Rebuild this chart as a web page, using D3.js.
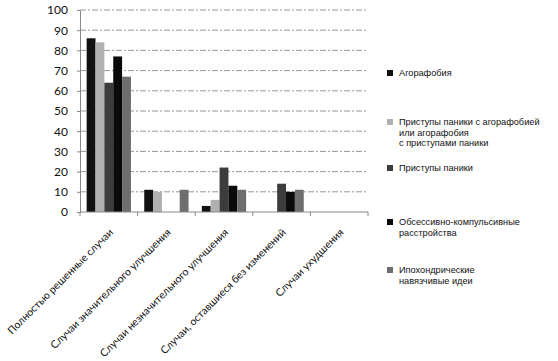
<!DOCTYPE html>
<html><head><meta charset="utf-8">
<script src="https://cdn.jsdelivr.net/npm/d3@7"></script>
<style>body{margin:0;background:#fff}</style>
</head><body>
<script>
const categories = ["Полностью решенные случаи","Случаи значительного улучшения","Случаи незначительного улучшения","Случаи, оставшиеся без изменений","Случаи ухудшения"];
const seriesNames = [["Агорафобия"],["Приступы паники с агорафобией","или агорафобия","с приступами паники"],["Приступы паники"],["Обсессивно-компульсивные","расстройства"],["Ипохондрические","навязчивые идеи"]];
const agoraphobia = [86,11,3,0,0];
const panicAgora = [84,10,6,0,0];
const panic = [64,0,22,14,0];
const ocd = [77,0,13,10,0];
const hypochondria = [67,11,11,11,0];
const yTicks = [0,10,20,30,40,50,60,70,80,90,100];
const seriesValues = [agoraphobia,panicAgora,panic,ocd,hypochondria];
const colors = ["#111","#b0b0b0","#3c3c3c","#0a0a0a","#6e6e6e"];
const legendY = [73,122,168,222,270];

const W=558,H=361;
const svg=d3.select("body").append("svg").attr("width",W).attr("height",H);
const m={l:80,r:368,t:10,b:212};
const x=d3.scaleBand().domain(categories).range([m.l,m.r]);
const xs=d3.scaleBand().domain(d3.range(5)).range([0,x.bandwidth()]).paddingOuter(0.75).paddingInner(0);
const y=d3.scaleLinear().domain([0,100]).range([m.b,m.t]);
const font="Lato, sans-serif";
const legendFont="'Liberation Sans', Arial, sans-serif";

// gridlines
svg.append("g").selectAll("line").data(yTicks.filter(d=>d>0)).join("line")
  .attr("x1",m.l).attr("x2",m.r).attr("y1",d=>y(d)).attr("y2",d=>y(d))
  .attr("stroke","#999").attr("stroke-width",1).attr("stroke-dasharray","6,2,2,2");

// bars
seriesValues.forEach((vals,si)=>{
  svg.append("g").selectAll("rect").data(vals).join("rect")
    .attr("x",(d,i)=>x(categories[i])+xs(si))
    .attr("width",xs.bandwidth())
    .attr("y",d=>y(d)).attr("height",d=>y(0)-y(d))
    .attr("fill",colors[si]);
});

// y axis
const ya=svg.append("g").attr("transform",`translate(${m.l},0)`)
  .call(d3.axisLeft(y).tickValues(yTicks).tickSize(3).tickPadding(9));
ya.select(".domain").attr("stroke","#888");
ya.selectAll(".tick line").attr("stroke","#888");
ya.selectAll("text").attr("font-family",font).attr("font-size",12).attr("fill","#111");

// x axis
const xa=svg.append("g").attr("transform",`translate(0,${m.b})`);
xa.append("line").attr("x1",m.l).attr("x2",m.r).attr("stroke","#888");
xa.selectAll("line.t").data(d3.range(6)).join("line").attr("class","t")
  .attr("x1",i=>m.l+i*x.step()).attr("x2",i=>m.l+i*x.step()).attr("y1",0).attr("y2",4).attr("stroke","#888");
xa.selectAll("text").data(categories).join("text")
  .attr("transform",d=>`translate(${x(d)+x.bandwidth()/2+5},${21}) rotate(-45)`)
  .attr("text-anchor","end").attr("font-family",font).attr("font-size",10.5).attr("fill","#111")
  .text(d=>d);

// legend
const lg=svg.append("g");
seriesNames.forEach((lines,i)=>{
  lg.append("rect").attr("x",387).attr("y",legendY[i]-3).attr("width",6).attr("height",6).attr("fill",colors[i]);
  const t=lg.append("text").attr("x",399).attr("y",legendY[i])
      .attr("font-family",legendFont).attr("font-size",9.2).attr("fill","#111");
  lines.forEach((s,j)=>{
    t.append("tspan").attr("x",399).attr("dy",j===0?"0.35em":"10.3").text(s);
  });
});
</script>
</body></html>
